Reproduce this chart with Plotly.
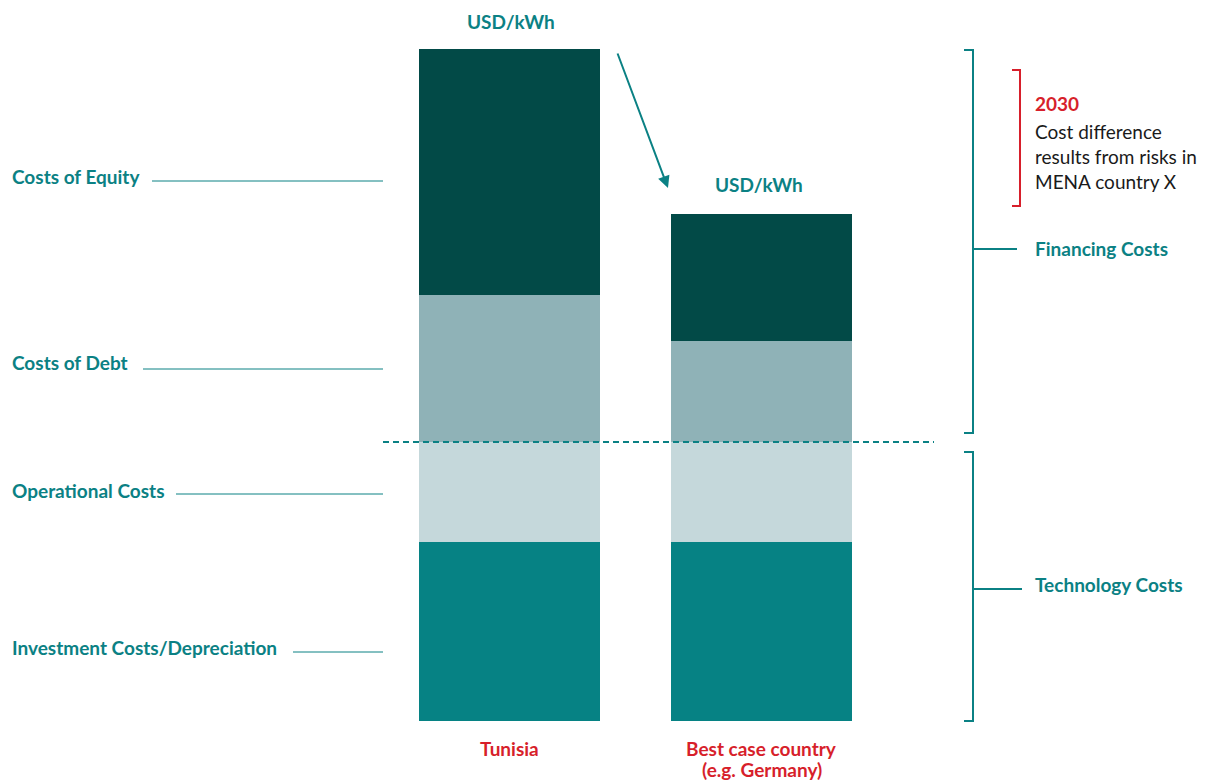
import plotly.graph_objects as go

W, H = 1212, 780
OFF = 8  # page margin the browser adds around the figure

# data (arbitrary units)
countries = ['Tunisia', 'Best case country<br>(e.g. Germany)']
investment = [3.58, 3.58]
operational = [2.0, 2.0]
debt = [2.94, 2.02]
equity = [4.92, 2.54]

TEAL = '#0b8184'
RED = '#d71f2b'
FONT = 'Lato'
FS = 19


def px(x):
    return (x - OFF) / W


def py(y):
    return 1 - (y - OFF) / H


fig = go.Figure()
series = [
    ('Investment Costs/Depreciation', investment, '#068284'),
    ('Operational Costs', operational, '#c5d8db'),
    ('Costs of Debt', debt, '#8fb2b7'),
    ('Costs of Equity', equity, '#024a47'),
]
for name, vals, col in series:
    fig.add_trace(go.Bar(x=countries, y=vals, name=name, marker=dict(color=col, line=dict(width=0)),
                         width=0.718, hoverinfo='name+y'))

shapes = []
annotations = []

# left labels with leader lines
left = [
    ('Costs of Equity', 176, 152, 181),
    ('Costs of Debt', 363, 143, 369),
    ('Operational Costs', 490, 176, 494),
    ('Investment Costs/Depreciation', 647, 293, 652),
]
for txt, ty, lx, ly in left:
    annotations.append(dict(text='<b>%s</b>' % txt, x=px(10), y=py(ty), xanchor='left', yanchor='middle',
                            font=dict(color=TEAL, size=FS)))
    shapes.append(dict(type='line', xref='paper', yref='paper', x0=px(lx), x1=px(383), y0=py(ly), y1=py(ly),
                       line=dict(color=TEAL, width=1)))

# dashed split line
shapes.append(dict(type='line', xref='paper', yref='paper', x0=px(383), x1=px(934), y0=py(442), y1=py(442),
                   line=dict(color=TEAL, width=2, dash='6px,4px')))

# unit labels
for x, y in [(511, 21), (759, 185)]:
    annotations.append(dict(text='<b>USD/kWh</b>', x=px(x), y=py(y), xanchor='center', yanchor='middle',
                            font=dict(color=TEAL, size=FS)))

# arrow
annotations.append(dict(text='', x=px(668), y=py(188), ax=-51, ay=-136, showarrow=True,
                        arrowhead=2, arrowsize=1.2, arrowwidth=2, arrowcolor=TEAL))


def bracket(x, y0, y1, tick, col, mid=None, midx=None, width=2):
    path = 'M %f %f L %f %f L %f %f L %f %f' % (px(x - tick), py(y0), px(x), py(y0), px(x), py(y1),
                                                px(x - tick), py(y1))
    shapes.append(dict(type='path', xref='paper', yref='paper', path=path, line=dict(color=col, width=width)))
    if mid is not None:
        shapes.append(dict(type='line', xref='paper', yref='paper', x0=px(x), x1=px(midx), y0=py(mid), y1=py(mid),
                           line=dict(color=col, width=width)))


bracket(973, 50, 433, 9, TEAL, 249, 1017)
bracket(973, 452, 721, 9, TEAL, 589, 1022)
bracket(1020, 70, 206, 8, RED)

annotations.append(dict(text='<b>Financing Costs</b>', x=px(1033), y=py(248), xanchor='left', yanchor='middle',
                        font=dict(color=TEAL, size=FS)))
annotations.append(dict(text='<b>Technology Costs</b>', x=px(1033), y=py(584), xanchor='left', yanchor='middle',
                        font=dict(color=TEAL, size=FS)))
annotations.append(dict(text='<b>2030</b>', x=px(1033), y=py(103), xanchor='left', yanchor='middle',
                        font=dict(color=RED, size=FS)))
for txt, y in [('Cost difference', 131), ('results from risks in', 156), ('MENA country X', 181)]:
    annotations.append(dict(text=txt, x=px(1033), y=py(y), xanchor='left', yanchor='middle',
                            font=dict(color='#1a1a1a', size=FS)))

# country labels under bars, one annotation per line to keep tight spacing
for c in countries:
    for i, line in enumerate(c.split('<br>')):
        annotations.append(dict(text='<b>%s</b>' % line, x=c, xref='x', y=py(748 + 21 * i), yref='paper',
                                xanchor='center', yanchor='middle', font=dict(color=RED, size=FS),
                                showarrow=False))

for a in annotations:
    a.setdefault('xref', 'paper')
    a.setdefault('yref', 'paper')
    a.setdefault('showarrow', False)

fig.update_layout(
    barmode='stack',
    width=W, height=H,
    margin=dict(l=0, r=0, t=0, b=0),
    plot_bgcolor='white', paper_bgcolor='white',
    showlegend=False,
    font=dict(family=FONT, size=FS, color=TEAL),
    xaxis=dict(range=[-1.990, 2.819], visible=False, fixedrange=True),
    yaxis=dict(range=[-1.34, 14.26], visible=False, fixedrange=True),
    shapes=shapes,
    annotations=annotations,
)

fig.write_html('out.html')
